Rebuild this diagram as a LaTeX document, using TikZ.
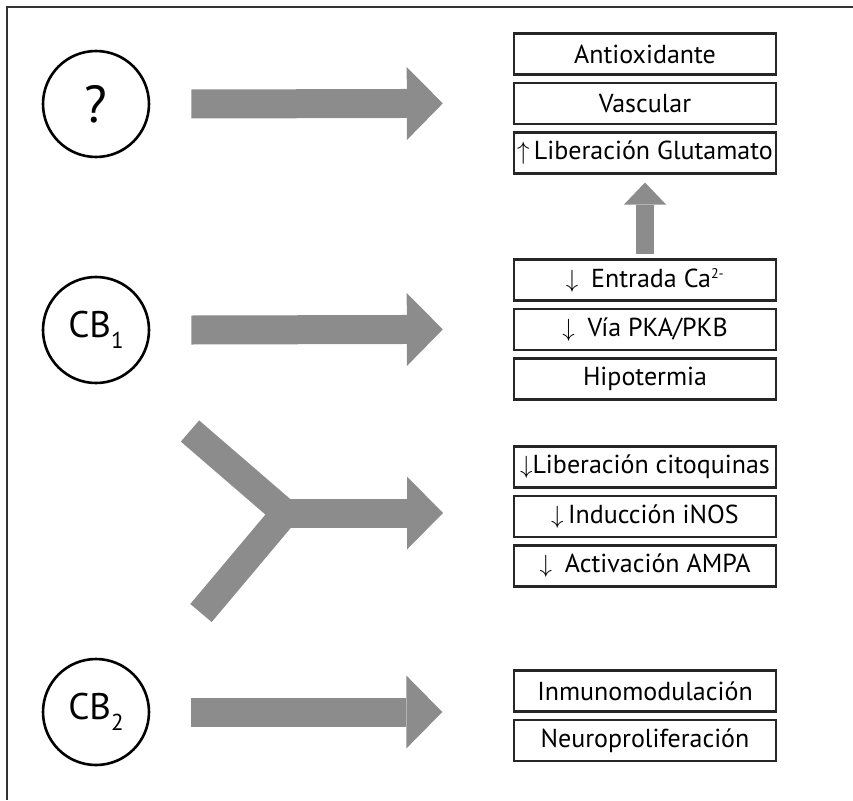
\documentclass[tikz,border=0pt]{standalone}
\usepackage{fontspec}
\setmainfont{PT Sans}
\usetikzlibrary{arrows.meta,positioning}
\newcommand{\dn}{{\fontsize{32}{32}\selectfont$\downarrow$}}
\newcommand{\up}{{\fontsize{32}{32}\selectfont$\uparrow$}}

\begin{document}
\begin{tikzpicture}[
  x=1pt, y=-1pt,
  font=\fontsize{26}{30}\selectfont,
  box/.style={draw=black!85, line width=2.4pt, fill=white, minimum width=262pt, minimum height=41pt, inner sep=0pt},
  circ/.style={draw, circle, line width=2.6pt, minimum size=106pt, inner sep=0pt, font=\fontsize{37}{40}\selectfont},
  bigarrow/.style={draw=black!45, line width=29pt, -{Triangle[length=36pt, width=73pt, line width=0pt]}},
  uparrow/.style={draw=black!45, line width=18pt, -{Triangle[length=22pt, width=42pt, line width=0pt]}},
  arm/.style={draw=black!45, line width=28pt, miter limit=10}
]
  \useasboundingbox (0,0) rectangle (853,800);
  \draw[black!80, line width=1.5pt] (853,7) -- (7,7) -- (7,800);

  \node[circ, font=\fontsize{52}{56}\selectfont] (q) at (96,104) {?};
  \node[circ] (cb1) at (96,330) {CB\raisebox{-.3em}{\fontsize{23}{24}\selectfont 1}};
  \node[circ] (cb2) at (96,712) {CB\raisebox{-.3em}{\fontsize{23}{24}\selectfont 2}};

  \node[box] (antiox) at (645,54) {Antioxidante};
  \node[box, below=6pt of antiox] (vasc) {Vascular};
  \node[box, below=6pt of vasc] (glut) {\up\,Liberación Glutamato};
  \node[box] (entrada) at (645,280) {\dn\enspace Entrada Ca\textsuperscript{\fontsize{14}{14}\selectfont 2-}};
  \node[box, below=6pt of entrada] (via) {\dn\enspace Vía PKA/PKB};
  \node[box, below=6pt of via] (hipo) {Hipotermia};
  \node[box] (citoq) at (645,467) {\dn Liberación citoquinas};
  \node[box, below=6pt of citoq] (induc) {\dn\,Inducción iNOS};
  \node[box, below=6pt of induc] (ampa) {\dn\enspace Activación AMPA};
  \node[box] (inmuno) at (645,691) {Inmunomodulación};
  \node[box, below=6pt of inmuno] (neuro) {Neuroproliferación};

  \coordinate (yup) at (190,431);
  \coordinate (ydown) at (201,613);
  \coordinate (yj) at (285,513);
  \coordinate (ytip) at (443,513);

  \draw[bigarrow] ([xshift=41pt]q.east) -- ([xshift=-70pt]vasc.west);
  \draw[bigarrow] ([xshift=41pt]cb1.east) -- ([xshift=-70pt]via.west);
  \draw[uparrow] ([yshift=4pt]entrada.north) -- ([yshift=-8pt]glut.south);
  \draw[arm] (yup) -- (yj) -- (ydown);
  \draw[bigarrow] (yj) -- (ytip);
  \draw[bigarrow] ([xshift=41pt]cb2.east) -- ++(251pt,0pt);
\end{tikzpicture}
\end{document}
